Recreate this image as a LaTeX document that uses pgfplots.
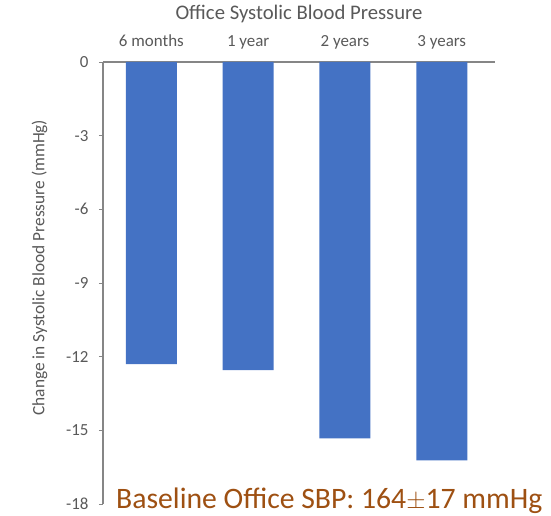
\documentclass[border=0pt]{standalone}
\usepackage{pgfplots}
\pgfplotsset{compat=1.18}
\usepackage{fontspec}
\setmainfont{Carlito}
\definecolor{barblue}{RGB}{68,114,196}
\definecolor{txtgray}{RGB}{89,89,89}
\definecolor{axgray}{RGB}{134,134,134}
\definecolor{brown}{RGB}{158,80,18}
\begin{document}
\begin{tikzpicture}
\begin{axis}[
  scale only axis,
  width=392bp, height=442bp,
  xmin=-0.5, xmax=3.55,
  ymin=-18, ymax=0,
  axis x line=top, axis y line=left,
  axis line style={-, axgray, line width=1.2pt},
  xtick={0,1,2,3},
  xticklabels={6 months,1 year,2 years,3 years},
  x tick label style={font=\fontsize{17}{19}\selectfont, text=txtgray, text height=12bp, text depth=4bp, yshift=4bp},
  xtick style={draw=none},
  ytick={0,-3,-6,-9,-12,-15,-18},
  y tick label style={font=\fontsize{17}{19}\selectfont, text=txtgray, xshift=-7bp},
  ytick style={axgray, line width=0.8pt},
  tick align=outside,
  major tick length=4bp,
  /pgf/number format/assume math mode=true,
  ylabel={Change in Systolic Blood Pressure (mmHg)},
  ylabel style={font=\fontsize{17.4}{19}\selectfont, text=txtgray, at={(ticklabel cs:0.535)}, yshift=12bp},
  title={Office Systolic Blood Pressure},
  title style={font=\fontsize{20.8}{23}\selectfont, text=txtgray, yshift=30bp},
  ybar, bar width=51bp,
  clip=false,
]
\addplot[fill=barblue, draw=none] coordinates {(0,-12.3) (1,-12.55) (2,-15.33) (3,-16.22)};
\node[anchor=west, text=brown, font=\fontsize{29.8}{32}\selectfont, inner sep=0pt]
  at ([xshift=13bp, yshift=3bp]rel axis cs:0,0) {Baseline Office SBP: 164$\pm$17 mmHg};
\end{axis}
\path ([xshift=-103bp, yshift=-12bp]current axis.south west) rectangle ([xshift=56bp, yshift=62bp]current axis.north east);
\end{tikzpicture}
\end{document}
